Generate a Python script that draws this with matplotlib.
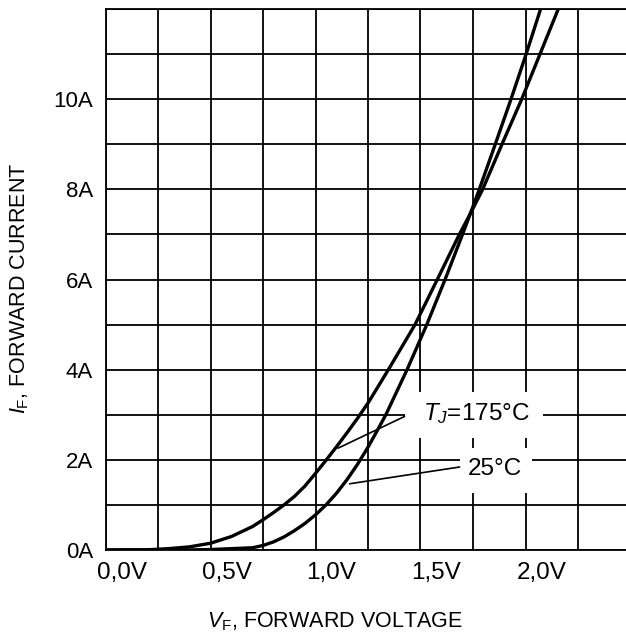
import matplotlib
matplotlib.use("Agg")
import matplotlib.pyplot as plt
from matplotlib.patches import Rectangle
from matplotlib.transforms import ScaledTranslation
import numpy as np

plt.rcParams['font.family'] = ['Liberation Sans', 'DejaVu Sans']
plt.rcParams['mathtext.fontset'] = 'custom'
plt.rcParams['mathtext.rm'] = 'Liberation Sans'
plt.rcParams['mathtext.it'] = 'Liberation Sans:italic'
plt.rcParams['mathtext.bf'] = 'Liberation Sans:bold'

# Data
v_175 = [0.0, 0.2, 0.3, 0.4, 0.5, 0.6, 0.7, 0.75, 0.8, 0.85, 0.9, 0.95, 1.0,
         1.05, 1.1, 1.15, 1.2, 1.25, 1.3, 1.347, 1.474, 1.58, 1.685, 1.744,
         1.796, 1.888, 1.982, 2.069, 2.156]
i_175 = [0.0, 0.005, 0.03, 0.07, 0.15, 0.3, 0.52, 0.67, 0.83, 1.0, 1.19, 1.42,
         1.7, 1.99, 2.29, 2.6, 2.92, 3.26, 3.64, 4.0, 5.0, 6.0, 7.0, 7.52,
         8.0, 9.0, 10.0, 11.0, 12.0]
v_25 = [0.0, 0.4, 0.5, 0.6, 0.7, 0.75, 0.8, 0.85, 0.9, 0.95, 1.0, 1.05, 1.1,
        1.15, 1.2, 1.25, 1.3, 1.335, 1.436, 1.53, 1.617, 1.7, 1.742, 1.78,
        1.856, 1.931, 2.003, 2.072]
i_25 = [0.0, 0.003, 0.01, 0.03, 0.05, 0.1, 0.18, 0.29, 0.43, 0.59, 0.78, 1.0,
        1.26, 1.56, 1.9, 2.28, 2.7, 3.0, 4.0, 5.0, 6.0, 7.0, 7.52, 8.0,
        9.0, 10.0, 11.0, 12.0]

x_major = [0.0, 0.5, 1.0, 1.5, 2.0]
x_labels = ["0,0V", "0,5V", "1,0V", "1,5V", "2,0V"]
y_major = [0, 2, 4, 6, 8, 10]
y_labels = ["0A", "2A", "4A", "6A", "8A", "10A"]

W, H = 626, 637
fig = plt.figure(figsize=(W / 100, H / 100), dpi=100)
left_px, right_px, top_px, bottom_px = 105.5, 626, 9, 550
ax = fig.add_axes([left_px / W, 1 - bottom_px / H,
                   (right_px - left_px) / W, (bottom_px - top_px) / H])

ax.set_xlim(0, (right_px - left_px) / 210.0)
ax.set_ylim(0, 12)

ax.set_xticks(x_major)
ax.set_xticklabels(x_labels)
ax.set_xticks(np.arange(0.25, 2.5, 0.5), minor=True)
ax.set_yticks(y_major)
ax.set_yticklabels(y_labels)
ax.set_yticks(np.arange(1, 12.5, 1), minor=True)
ax.tick_params(which='both', length=0)
ax.tick_params(axis='x', pad=9, labelsize=17.5)
ax.tick_params(axis='y', pad=9, labelsize=16)
offset = ScaledTranslation(16 / 100, 0, fig.dpi_scale_trans)
for lab in ax.get_xticklabels():
    lab.set_transform(lab.get_transform() + offset)
ax.set_axisbelow(True)
ax.grid(True, which='both', color='black', linewidth=1.3)
for s in ['left', 'bottom', 'top']:
    ax.spines[s].set_linewidth(1.3)
ax.spines['right'].set_visible(False)

ax.plot(v_175, i_175, color='black', linewidth=2.4, zorder=3,
        solid_joinstyle='round')
ax.plot(v_25, i_25, color='black', linewidth=2.4, zorder=3,
        solid_joinstyle='round')

# white masks behind labels
ax.add_patch(Rectangle((1.426, 2.49), 2.083 - 1.426, 3.51 - 2.49,
                       facecolor='white', edgecolor='none', zorder=2))
ax.add_patch(Rectangle((1.688, 1.27), 2.031 - 1.688, 2.27 - 1.27,
                       facecolor='white', edgecolor='none', zorder=2))

ax.text(1.764, 3.02, r"$T_{J}$=175°C", fontsize=17.5, ha='center', va='center', zorder=4)
ax.text(1.855, 1.8, "25°C", fontsize=17.5, ha='center', va='center', zorder=4)

# leader lines
ax.plot([1.423, 1.108], [2.96, 2.26], color='black', linewidth=1.2, zorder=3)
ax.plot([1.685, 1.164], [1.84, 1.47], color='black', linewidth=1.2, zorder=3)

fig.text(335 / W, 1 - 622 / H, r"$V_{\mathrm{F}}$, FORWARD VOLTAGE", fontsize=15.5,
         ha='center', va='center')
fig.text(20 / W, 1 - 288 / H, r"$I_{\mathrm{F}}$, FORWARD CURRENT", fontsize=15.5,
         ha='center', va='center', rotation=90)

fig.savefig("out.png", dpi=100)
